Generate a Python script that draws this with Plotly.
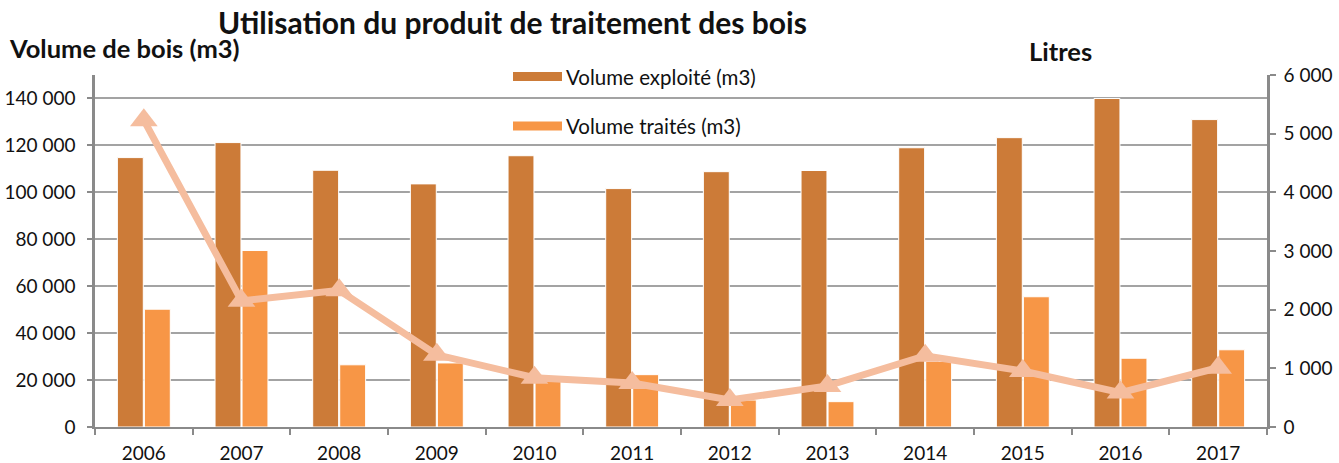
import plotly.graph_objects as go

years = ["2006", "2007", "2008", "2009", "2010", "2011", "2012", "2013", "2014", "2015", "2016", "2017"]
volume_exploite = [114800, 121200, 109400, 103600, 115600, 101600, 108800, 109300, 119000, 123300, 140000, 131000]
volume_traites = [50200, 75200, 26500, 27300, 20000, 22300, 11500, 10800, 28000, 55500, 29300, 32900]
litres = [5230, 2150, 2330, 1230, 840, 750, 460, 700, 1215, 955, 586, 1010]

FONT = "Lato"
C_DARK = "#CC7B38"
C_LIGHT = "#F79646"
C_LINE = "#F5BD9E"
GRID = "#A3A3A3"
AX = "#8A8A8A"
TXT = "#111111"

fig = go.Figure()
fig.add_trace(go.Bar(x=years, y=volume_exploite, name="Volume exploité (m3)",
                     marker=dict(color=C_DARK, line=dict(color="white", width=1)), showlegend=False))
fig.add_trace(go.Bar(x=years, y=volume_traites, name="Volume traités (m3)",
                     marker=dict(color=C_LIGHT, line=dict(color="white", width=1)), showlegend=False))
fig.add_trace(go.Scatter(x=years, y=litres, yaxis="y2", mode="lines+markers", name="Litres",
                         line=dict(color=C_LINE, width=7),
                         marker=dict(symbol="triangle-up", size=24, color=C_LINE), showlegend=False))

L, R, T, B = 95, 72, 75, 36
W, H = 1339, 463
PW = W - L - R
PH = H - T - B

def px(x):
    return (x - L) / PW

def py(y):
    return (H - B - y) / PH

shapes = []
annotations = []
legend_items = [("Volume exploité (m3)", C_DARK, 76.5), ("Volume traités (m3)", C_LIGHT, 126)]
for text, col, yc in legend_items:
    shapes.append(dict(type="rect", xref="paper", yref="paper", x0=px(513), x1=px(562),
                       y0=py(yc + 4.5), y1=py(yc - 4.5), fillcolor=col, line=dict(width=0)))
    annotations.append(dict(text=text, xref="paper", yref="paper", x=px(564), y=py(yc),
                            xanchor="left", yanchor="middle", showarrow=False,
                            font=dict(family=FONT, size=20.5, color=TXT)))

annotations.append(dict(text="<b>Utilisation du produit de traitement des bois</b>", xref="paper", yref="paper",
                        x=px(512.5), y=py(22), xanchor="center", yanchor="middle", showarrow=False,
                        font=dict(family=FONT, size=30, color=TXT)))
annotations.append(dict(text="<b>Volume de bois (m3)</b>", xref="paper", yref="paper",
                        x=px(7), y=py(48), xanchor="left", yanchor="middle", showarrow=False,
                        font=dict(family=FONT, size=25.5, color=TXT)))
annotations.append(dict(text="<b>Litres</b>", xref="paper", yref="paper",
                        x=px(1027), y=py(51), xanchor="left", yanchor="middle", showarrow=False,
                        font=dict(family=FONT, size=25.5, color=TXT)))

fig.update_layout(
    width=W, height=H,
    margin=dict(l=L, r=R, t=T, b=B, autoexpand=False),
    paper_bgcolor="white", plot_bgcolor="white",
    barmode="group", bargap=0.447, bargroupgap=0.04,
    separators=", ",
    font=dict(family=FONT, size=19, color=TXT),
    xaxis=dict(type="category", range=[-0.5, len(years) - 0.5], tickson="boundaries",
               ticks="outside", ticklen=6, tickwidth=2, ticklabelstandoff=8,
               tickcolor=AX, showline=True, linecolor=AX, linewidth=2, showgrid=False, automargin=False,
               tickfont=dict(size=19, family=FONT, color=TXT)),
    yaxis=dict(range=[0, 150000], dtick=20000, tickformat=",", ticks="outside", ticklen=5, tickwidth=2,
               ticklabelstandoff=8,
               tickcolor=AX, showline=True, linecolor=AX, linewidth=2.5, showgrid=True,
               gridcolor=GRID, gridwidth=2, zeroline=False, automargin=False,
               tickfont=dict(size=19, family=FONT, color=TXT)),
    yaxis2=dict(range=[0, 6000], dtick=1000, tickformat=",", overlaying="y", side="right",
                ticks="outside", ticklen=6, tickwidth=2, tickcolor=AX, showline=True, linecolor=AX,
                linewidth=2.5, showgrid=False, zeroline=False, automargin=False, ticklabelstandoff=4,
                tickfont=dict(size=19, family=FONT, color=TXT)),
    shapes=shapes,
    annotations=annotations,
)

fig.write_html("out.html", config={"displayModeBar": False},
               post_script="document.body.style.margin='0';document.body.style.padding='0';")
